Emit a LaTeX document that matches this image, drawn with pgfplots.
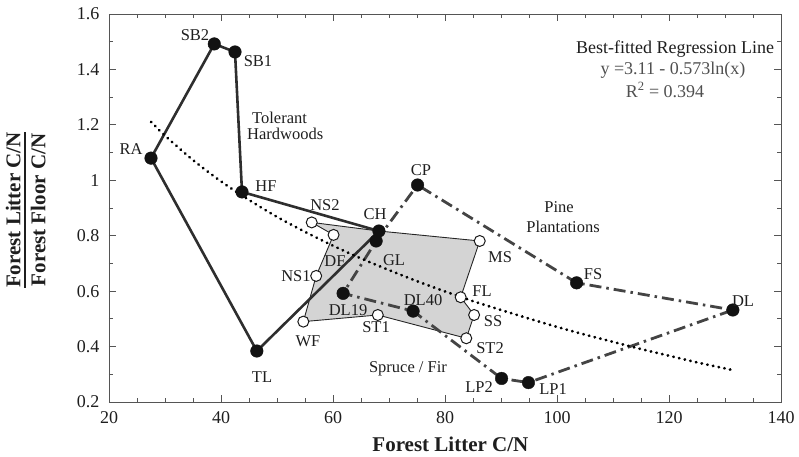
\documentclass[border=0pt]{standalone}
\usepackage{fontspec}
\setmainfont{Liberation Serif}
\usepackage{pgfplots}
\pgfplotsset{compat=1.18}
\definecolor{axgray}{HTML}{555555}
\definecolor{hardcol}{HTML}{2E2E2E}
\definecolor{pinecol}{HTML}{444444}
\definecolor{sprucegray}{HTML}{D4D4D4}
\definecolor{txtcol}{HTML}{1E1E1E}
\definecolor{eqcol}{HTML}{505050}
\newsavebox\numbox
\newcommand\ylab{\sbox\numbox{Forest Litter C/N}\vbox{\hbox to\wd\numbox{\usebox\numbox}\kern3.5pt\hrule height1.6pt\kern5pt\hbox to\wd\numbox{\hss Forest Floor C/N\hss}}}
\begin{document}
\begin{tikzpicture}
\begin{axis}[at={(0,0)},anchor=south west,
  width=672pt,height=388pt,scale only axis,
  xmin=20,xmax=140,ymin=0.2,ymax=1.6,
  xtick={20,40,60,80,100,120,140},
  ytick={0.2,0.4,0.6,0.8,1,1.2,1.4,1.6},
  yticklabels={0.2,0.4,0.6,0.8,1,1.2,1.4,1.6},
  minor x tick num=3, minor y tick num=1,
  tick align=inside, major tick length=7pt, minor tick length=4pt,
  axis line style={axgray,line width=0.9pt},
  every tick/.style={axgray,line width=0.8pt},
  /pgf/number format/assume math mode=true,
  tick label style={font=\fontsize{18}{20}\selectfont, text=txtcol},
  xticklabel style={yshift=-6pt},
  yticklabel style={xshift=-6pt},
  xlabel={Forest Litter C/N},
  xlabel style={font=\fontsize{21}{24}\selectfont\bfseries, text=txtcol, at={(axis description cs:0.508,0)}, anchor=center, yshift=-42pt},
  ylabel={\ylab},
  ylabel style={font=\fontsize{21}{24}\selectfont\bfseries, text=txtcol, at={(axis description cs:-0.124,0.495)}, anchor=center},
]
% Spruce / Fir polygon
\addplot[fill=sprucegray, draw=black!85, line width=0.9pt, line join=round] coordinates {(56.2,0.848)(68.2,0.817)(86.2,0.781)(82.8,0.578)(85.2,0.514)(83.8,0.43)(68.0,0.514)(54.7,0.49)(57.0,0.655)(60.1,0.803)(56.2,0.848)};
% Tolerant hardwoods
\addplot[hardcol, line width=2.6pt, line join=round] coordinates {(27.5,1.08)(38.8,1.492)(42.5,1.463)(43.75,0.958)(68.2,0.817)(46.4,0.384)(27.5,1.08)};
% Pine plantations
\addplot[pinecol, line width=2.8pt, dash pattern=on 12pt off 5pt on 2.5pt off 5pt] coordinates {(67.7,0.781)(75.1,0.983)(103.5,0.63)(131.4,0.532)(94.9,0.27)(90.1,0.285)(74.3,0.528)(61.8,0.592)(67.7,0.781)};
% Regression line
\addplot[black, line width=2.8pt, line cap=round, dash pattern=on 0.4pt off 5.4pt, smooth] coordinates {(27.5,1.211)(30,1.161)(35,1.073)(40,0.996)(45,0.929)(50,0.868)(55,0.814)(60,0.764)(65,0.718)(70,0.676)(75,0.636)(80,0.599)(85,0.564)(90,0.532)(95,0.501)(100,0.471)(105,0.443)(110,0.417)(115,0.391)(120,0.367)(125,0.343)(131.4,0.315)};
% filled markers
\addplot[only marks, mark=*, mark size=6.3pt, mark options={fill=black!93, draw=black!93}] coordinates {(27.5,1.08)(38.8,1.492)(42.5,1.463)(43.75,0.958)(46.4,0.384)(67.7,0.781)(68.2,0.817)(75.1,0.983)(103.5,0.63)(131.4,0.532)(94.9,0.27)(90.1,0.285)(74.3,0.528)(61.8,0.592)};
% open markers
\addplot[only marks, mark=*, mark size=5.5pt, mark options={fill=white, draw=black!90, line width=1pt}] coordinates {(56.2,0.848)(60.1,0.803)(57.0,0.655)(54.7,0.49)(68.0,0.514)(83.8,0.43)(85.2,0.514)(82.8,0.578)(86.2,0.781)};
\end{axis}
\begin{scope}[every node/.style={font=\fontsize{16.5}{18}\selectfont, text=txtcol, inner sep=0pt}]
\node at (86pt,367pt) {SB2};
\node at (149pt,341pt) {SB1};
\node[anchor=west] at (143pt,284pt) {Tolerant};
\node[anchor=west] at (138pt,268pt) {Hardwoods};
\node at (22pt,253pt) {RA};
\node at (157pt,216pt) {HF};
\node at (216pt,197pt) {NS2};
\node at (266pt,188pt) {CH};
\node at (312pt,232pt) {CP};
\node at (226pt,141pt) {DF};
\node at (285pt,142pt) {GL};
\node at (391pt,145pt) {MS};
\node at (187pt,126pt) {NS1};
\node at (373pt,111pt) {FL};
\node at (314pt,102pt) {DL40};
\node at (239pt,92pt) {DL19};
\node at (384pt,81pt) {SS};
\node at (199pt,61pt) {WF};
\node at (267pt,75pt) {ST1};
\node at (381pt,54pt) {ST2};
\node at (299pt,33pt) {Spruce / Fir};
\node at (370pt,15pt) {LP2};
\node at (153pt,25pt) {TL};
\node at (450pt,195pt) {Pine};
\node at (454pt,175pt) {Plantations};
\node at (484pt,128pt) {FS};
\node at (634pt,101pt) {DL};
\node at (444pt,13pt) {LP1};
\end{scope}
\begin{scope}[every node/.style={font=\fontsize{18}{20}\selectfont, inner sep=0pt}]
\node[text=txtcol] at (566pt,353pt) {Best-fitted Regression Line};
\node[text=eqcol] at (564pt,332pt) {y =3.11 - 0.573ln(x)};
\node[text=eqcol] at (556pt,312pt) {R\textsuperscript{2} = 0.394};
\end{scope}
\pgfresetboundingbox
\path[use as bounding box] (-109pt,-54pt) rectangle (690pt,402pt);
\end{tikzpicture}
\end{document}
